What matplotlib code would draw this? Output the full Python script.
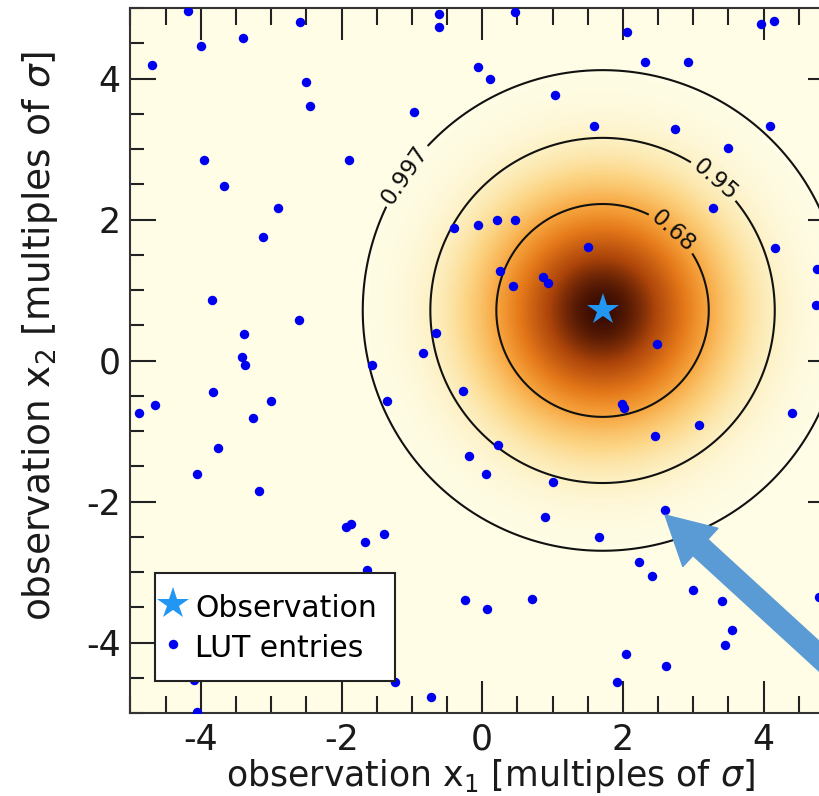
import numpy as np
import matplotlib
matplotlib.use("Agg")
import matplotlib.pyplot as plt
from matplotlib.colors import LinearSegmentedColormap
from matplotlib.patches import FancyArrow
from matplotlib.ticker import MultipleLocator

plt.rcParams['font.family'] = ['DejaVu Sans']
plt.rcParams['mathtext.fontset'] = 'dejavusans'
plt.rcParams['axes.unicode_minus'] = False

# ---- data ----
obs_x1 = 1.71
obs_x2 = 0.71
sigma = 1.0
conf_levels = [0.68, 0.95, 0.997]
conf_labels = ['0.68', '0.95', '0.997']

lut_x1 = [-4.18, -4.00, -4.70, -3.40, -2.59, -2.50, -2.45, -0.61, -0.61, -0.97,
          -0.06, -3.96, -3.67, -1.90, -2.90, -3.12, -3.84, -2.61, -3.38, -0.40,
          -0.06, -0.66, -0.84, -3.41, -3.37,
          0.47, 2.06, 3.96, 4.15, 0.11, 1.04, 2.32, 2.92, 1.59, 2.74,
          4.09, 3.50, 3.28, 4.16, 4.76, 4.74, 0.21, 0.47, 1.50, 0.25,
          0.43, 0.86, 0.94, 2.48,
          -4.88, -4.65, -3.83, -3.00, -3.26, -3.76, -4.06, -3.17, -1.57, -1.36,
          -0.27, -0.19, -1.94, -1.87, -1.66, -1.39, -1.64, -0.24, -1.24, -0.73,
          -4.06, -4.10,
          1.99, 2.02, 4.40, 3.08, 2.46, 0.23, 0.06, 1.00, 0.89, 2.60,
          1.66, 2.23, 2.41, 3.00, 3.41, 3.55, 3.45, 0.71, 0.07, 2.05,
          2.61, 1.91, 4.78]
lut_x2 = [4.96, 4.46, 4.19, 4.57, 4.80, 3.95, 3.61, 4.92, 4.73, 3.52,
          4.17, 2.85, 2.47, 2.84, 2.17, 1.75, 0.86, 0.58, 0.38, 1.875,
          1.92, 0.39, 0.10, 0.05, -0.07,
          4.94, 4.66, 4.77, 4.82, 3.99, 3.76, 4.24, 4.24, 3.32, 3.29,
          3.32, 3.02, 2.17, 1.59, 1.30, 0.79, 2.00, 2.00, 1.61, 1.27,
          1.06, 1.19, 1.10, 0.24,
          -0.74, -0.63, -0.45, -0.57, -0.81, -1.24, -1.61, -1.85, -0.06, -0.58,
          -0.43, -1.36, -2.36, -2.32, -2.58, -2.46, -2.97, -3.40, -4.56, -4.78,
          -4.99, -4.53,
          -0.62, -0.67, -0.75, -0.92, -1.07, -1.20, -1.61, -1.72, -2.22, -2.12,
          -2.50, -2.86, -3.05, -3.25, -3.41, -3.82, -4.03, -3.39, -3.52, -4.16,
          -4.33, -4.56, -3.36]

xticks = [-4, -2, 0, 2, 4]
yticks = [-4, -2, 0, 2, 4]

# ---- figure ----
W, H = 820, 796
fig = plt.figure(figsize=(W / 100, H / 100), dpi=100)
ax = fig.add_axes([130.5 / W, (H - 713) / H, 703.5 / W, 705 / H])

cmap = LinearSegmentedColormap.from_list('heat', [
    (0.00, '#fffde6'),
    (0.05, '#fdf0c2'),
    (0.15, '#fcd585'),
    (0.32, '#f7a53e'),
    (0.50, '#e5791a'),
    (0.75, '#ad450a'),
    (1.00, '#3a0c02'),
])

g = np.linspace(-5, 5, 500)
X, Y = np.meshgrid(g, g)
R2 = ((X - obs_x1) ** 2 + (Y - obs_x2) ** 2) / sigma ** 2
ax.imshow(np.exp(-R2 / 2), extent=[-5, 5, -5, 5], origin='lower',
          cmap=cmap, vmin=0, vmax=1, interpolation='bilinear', zorder=0,
          aspect='auto')

levels = [-2 * np.log(1 - p) for p in conf_levels]
cs = ax.contour(X, Y, R2, levels=levels, colors='#111111', linewidths=1.5,
                zorder=1)
fmt = {lv: lb for lv, lb in zip(cs.levels, conf_labels)}
ax.clabel(cs, fmt=fmt, fontsize=16.5, inline=True, inline_spacing=4,
          manual=[(2.70, 1.82), (3.31, 2.57), (-1.17, 2.68)])

ax.plot(lut_x1, lut_x2, 'o', color='#0000f0', markersize=6.8,
        markeredgewidth=0, label='LUT entries', zorder=3)
ax.plot([obs_x1], [obs_x2], '*', color='#2196f3', markersize=24,
        markeredgewidth=0, label='Observation', zorder=4)

ax.set_xlim(-5, 5)
ax.set_ylim(-5, 5)
ax.set_xticks(xticks)
ax.set_yticks(yticks)
ax.xaxis.set_minor_locator(MultipleLocator(0.5))
ax.yaxis.set_minor_locator(MultipleLocator(0.5))
ax.tick_params(axis='both', which='both', direction='in', top=True,
               right=True, width=1.5, color='#222222', labelsize=25,
               labelcolor='#1a1a1a', pad=7)
ax.tick_params(axis='x', which='major', length=23)
ax.tick_params(axis='x', which='minor', length=12)
ax.tick_params(axis='y', which='major', length=19)
ax.tick_params(axis='y', which='minor', length=10)
for s in ax.spines.values():
    s.set_linewidth(1.5)
    s.set_color('#333333')

ax.set_xlabel('observation x$_1$ [multiples of $\\sigma$]', fontsize=25,
              color='#1a1a1a')
ax.set_ylabel('observation x$_2$ [multiples of $\\sigma$]', fontsize=27,
              color='#1a1a1a')
ax.xaxis.set_label_coords(0.511, -0.062)
ax.yaxis.set_label_coords(-0.100, 0.535)

h, l = ax.get_legend_handles_labels()
leg = ax.legend(h[::-1], l[::-1], loc='lower left',
                bbox_to_anchor=(0.035, 0.045), borderaxespad=0,
                fontsize=21.5, fancybox=False, framealpha=1,
                edgecolor='#222222', handlelength=0.01, handletextpad=0.73,
                handleheight=1.3, borderpad=0.6, labelspacing=0.25)
leg.get_frame().set_linewidth(1.5)
leg.set_zorder(10)

# big blue arrow (in figure pixel units via inches)
tip = (665 / 100, (H - 515) / 100)
tail = (880 / 100, (H - 712) / 100)
arrow = FancyArrow(tail[0], tail[1], tip[0] - tail[0], tip[1] - tail[1],
                   width=0.22, head_width=0.52, head_length=0.48,
                   length_includes_head=True, color='#5b9bd5',
                   transform=fig.dpi_scale_trans, zorder=20)
fig.add_artist(arrow)

fig.savefig('out.png', dpi=100)
